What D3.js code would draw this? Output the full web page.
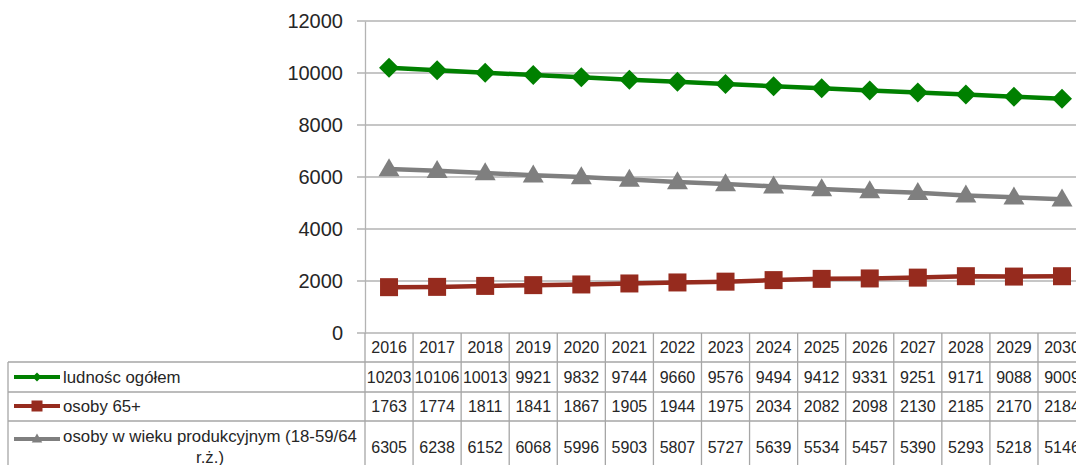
<!DOCTYPE html>
<html><head><meta charset="utf-8">
<script src="https://cdn.jsdelivr.net/npm/d3@7/dist/d3.min.js"></script>
<style>html,body{margin:0;padding:0;background:#fff;overflow:hidden}</style>
</head><body><svg id="c" width="1076" height="465"></svg>
<script>
const years = ["2016","2017","2018","2019","2020","2021","2022","2023","2024","2025","2026","2027","2028","2029","2030"];
const ludnosc = [10203,10106,10013,9921,9832,9744,9660,9576,9494,9412,9331,9251,9171,9088,9009];
const osoby65 = [1763,1774,1811,1841,1867,1905,1944,1975,2034,2082,2098,2130,2185,2170,2184];
const produkcyjny = [6305,6238,6152,6068,5996,5903,5807,5727,5639,5534,5457,5390,5293,5218,5146];
const yTicks = [0,2000,4000,6000,8000,10000,12000];
const seriesNames = ["ludnośc ogółem","osoby 65+","osoby w wieku produkcyjnym (18-59/64 r.ż.)"];

const series = [
  {name: seriesNames[0], values: ludnosc, color: "#008000", marker: "diamond"},
  {name: seriesNames[1], values: osoby65, color: "#962b1e", marker: "square"},
  {name: seriesNames[2], values: produkcyjny, color: "#7f7f7f", marker: "triangle"}
];

const svg = d3.select("#c");
const font = "'Liberation Sans', Arial, sans-serif";
const axisLeftX = 365, bandW = 48.07;
const x = d3.scaleBand().domain(years).range([axisLeftX, axisLeftX + bandW*years.length]);
const y = d3.scaleLinear().domain([0,12000]).range([333,21]);
const right = axisLeftX + bandW*years.length;

// gridlines
svg.append("g").selectAll("line").data(yTicks).join("line")
  .attr("x1", axisLeftX-8).attr("x2", right)
  .attr("y1", d=>y(d)).attr("y2", d=>y(d))
  .attr("stroke", "#b3b3b3").attr("stroke-width", 1.3);

// y axis
const yAxis = d3.axisLeft(y).tickValues(yTicks).tickSize(0).tickPadding(22).tickFormat(d3.format("d"));
const ga = svg.append("g").attr("transform", `translate(${axisLeftX},0)`).call(yAxis);
ga.select(".domain").attr("stroke", "#b3b3b3").attr("stroke-width", 1.3);
ga.selectAll("text").attr("font-family", font).attr("font-size", 20).attr("fill", "#262626");

// table
const tbl = svg.append("g");
const borderC = "#a6a6a6";
tbl.selectAll("line.v").data(d3.range(years.length+1)).join("line")
  .attr("x1", i=>axisLeftX + i*bandW).attr("x2", i=>axisLeftX + i*bandW)
  .attr("y1", 333).attr("y2", 465)
  .attr("stroke", borderC).attr("stroke-width", 1.3);
tbl.append("line").attr("x1", 8).attr("x2", 8).attr("y1", 362).attr("y2", 465)
  .attr("stroke", borderC).attr("stroke-width", 1.3);
tbl.selectAll("line.h").data([362,392,421]).join("line")
  .attr("x1", 8).attr("x2", right).attr("y1", d=>d).attr("y2", d=>d)
  .attr("stroke", borderC).attr("stroke-width", 1.3);

// header years
tbl.selectAll("text.yr").data(years).join("text")
  .attr("x", d=>x(d)+x.bandwidth()/2).attr("y", 347).attr("dy", "0.35em")
  .attr("text-anchor", "middle").attr("font-family", font).attr("font-size", 16).attr("fill", "#262626")
  .text(d=>d);

const rowCenters = [377, 406, 447];
series.forEach((s, si) => {
  tbl.append("g").selectAll("text").data(s.values).join("text")
    .attr("x", (d,i)=>x(years[i])+x.bandwidth()/2).attr("y", rowCenters[si]).attr("dy", "0.35em")
    .attr("text-anchor", "middle").attr("font-family", font).attr("font-size", 16).attr("fill", "#262626")
    .text(d=>d);
});

function markerPath(type, r) {
  if (type === "diamond") return `M0,${-r}L${r},0L0,${r}L${-r},0Z`;
  if (type === "square") return `M${-r},${-r}H${r}V${r}H${-r}Z`;
  const h = r*1.8;
  return `M0,${-h*0.6}L${r*1.05},${h*0.4}L${-r*1.05},${h*0.4}Z`;
}

// legend keys in table
const legendY = [377, 406, 439];
series.forEach((s, si) => {
  const g = tbl.append("g");
  g.append("line").attr("x1", 14).attr("x2", 60).attr("y1", legendY[si]).attr("y2", legendY[si])
    .attr("stroke", s.color).attr("stroke-width", 4);
  g.append("path").attr("d", markerPath(s.marker, si===0?4.5:(si===1?5.5:5)))
    .attr("transform", `translate(37,${legendY[si]})`).attr("fill", s.color);
});
const lt = tbl.append("g").attr("font-family", font).attr("font-size", 16.8).attr("fill", "#262626");
lt.append("text").attr("x", 63).attr("y", 377).attr("dy", "0.35em").text(seriesNames[0]);
lt.append("text").attr("x", 63).attr("y", 406).attr("dy", "0.35em").text(seriesNames[1]);
lt.append("text").attr("x", 210).attr("y", 436).attr("dy", "0.35em").attr("text-anchor","middle").text("osoby w wieku produkcyjnym (18-59/64");
lt.append("text").attr("x", 210).attr("y", 457).attr("dy", "0.35em").attr("text-anchor","middle").text("r.ż.)");

// lines and markers
const line = d3.line().x((d,i)=>x(years[i])+x.bandwidth()/2).y(d=>y(d));
series.forEach(s => {
  svg.append("path").datum(s.values).attr("d", line)
    .attr("fill", "none").attr("stroke", s.color).attr("stroke-width", 4.5).attr("stroke-linejoin","round");
  const r = s.marker==="diamond"?10:(s.marker==="square"?9:10);
  svg.append("g").selectAll("path").data(s.values).join("path")
    .attr("d", markerPath(s.marker, r))
    .attr("transform", (d,i)=>`translate(${x(years[i])+x.bandwidth()/2},${y(d)})`)
    .attr("fill", s.color);
});
</script></body></html>
